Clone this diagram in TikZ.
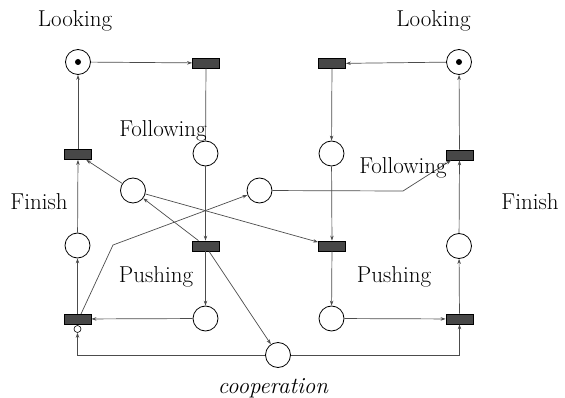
\documentclass[tikz,border=0pt]{standalone}
\usetikzlibrary{arrows.meta}
\begin{document}
\begin{tikzpicture}[x=1pt,y=-1pt,
  every node/.style={font=\fontsize{23}{27}\selectfont},
  place/.style={circle,draw=black,line width=0.8pt,minimum size=25pt,inner sep=0pt,fill=white},
  trans/.style={rectangle,draw=black,line width=0.8pt,fill=black!72,minimum width=27pt,minimum height=10pt,inner sep=0pt},
  token/.style={circle,fill=black,minimum size=6pt,inner sep=0pt},
  inhib/.style={circle,draw=black,line width=0.6pt,minimum size=7pt,inner sep=0pt},
  arc/.style={draw=black!70,line width=0.7pt,-{Stealth[length=5pt,width=3.5pt]}},
  plain/.style={draw=black!70,line width=0.7pt},
  lbl/.style={anchor=base,inner sep=0pt}]
\useasboundingbox (0,0) rectangle (565,398);

% left robot
\node[place] (L1) at (78,62) {};
\node[token] at (L1) {};
\node[trans] (T1) at (206,63) {};
\node[place] (F1) at (205.5,153.5) {};
\node[trans] (T2) at (78,154.5) {};
\node[place] (C1) at (133,190.5) {};
\node[place] (C2) at (259.5,190.5) {};
\node[place] (LF) at (77.5,245.5) {};
\node[trans] (T3) at (205.5,246) {};
\node[place] (P1) at (205.5,318.5) {};
\node[trans] (T4) at (77.5,319) {};
\node[inhib] (I4) at (77.5,329) {};
\node[place] (CO) at (278,355) {};

% right robot
\node[place] (L2) at (459,62) {};
\node[token] at (L2) {};
\node[trans] (T5) at (332,63.5) {};
\node[place] (F2) at (331.5,153.5) {};
\node[trans] (T6) at (459.5,155) {};
\node[place] (RF) at (459,246) {};
\node[trans] (T7) at (332,246) {};
\node[place] (P2) at (331.5,318.5) {};
\node[trans] (T8) at (459.5,319) {};

\coordinate (B1) at (113,245);
\coordinate (B2) at (403,191);
\coordinate (T4top) at (81,314);

% left cycle
\draw[arc] (L1) -- (T1);
\draw[plain] (T1) -- (F1);
\draw[arc] (F1) -- (T3);
\draw[arc] (T3) -- (P1);
\draw[arc] (P1) -- (T4);
\draw[arc] (T4) -- (LF);
\draw[arc] (LF) -- (T2);
\draw[arc] (T2) -- (L1);

% right cycle
\draw[arc] (L2) -- (T5);
\draw[arc] (T5) -- (F2);
\draw[arc] (F2) -- (T7);
\draw[arc] (T7) -- (P2);
\draw[arc] (P2) -- (T8);
\draw[arc] (T8) -- (RF);
\draw[arc] (RF) -- (T6);
\draw[arc] (T6) -- (L2);

% coupling arcs
\draw[arc] (C1) -- (T2);
\draw[arc] (T3) -- (C1);
\draw[arc] (C1) -- (T7);
\draw[arc] (T4top) -- (B1) -- (C2);
\draw[arc] (C2) -- (B2) -- (T6);
\draw[arc] (T3) -- (CO);
\draw[arc] (CO) -| (I4);
\draw[arc] (CO) -| (T8);

% labels
\node[lbl] (lk1) at (75,27) {Looking};
\node[lbl] (lk2) at (433.5,27) {Looking};
\node[lbl] (fo1) at (163,137) {Following};
\node[lbl] (fo2) at (403,174) {Following};
\node[lbl] (fi1) at (39,209.5) {Finish};
\node[lbl] (fi2) at (530,209.5) {Finish};
\node[lbl] (pu1) at (156,282) {Pushing};
\node[lbl] (pu2) at (394,282) {Pushing};
\node[lbl] (coop) at (273,393) {\itshape cooperation};
\end{tikzpicture}
\end{document}
